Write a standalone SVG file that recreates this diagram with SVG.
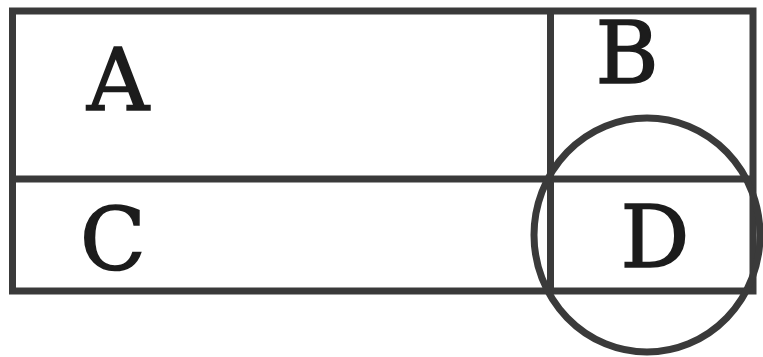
<svg xmlns="http://www.w3.org/2000/svg" width="763" height="357" viewBox="0 0 763 357">
<style>
.ln{stroke:#3a3a3a;stroke-width:7;fill:none}
.lb{font-family:"DejaVu Serif","Liberation Serif",serif;font-size:86px;fill:#1c1c1c;stroke:#1c1c1c;stroke-width:1.6;text-anchor:middle}
</style>
<rect width="763" height="357" fill="#ffffff"/>
<g id="grid">
<rect class="ln" x="12.5" y="11" width="740.5" height="280"/>
<line class="ln" x1="12.5" y1="179" x2="753" y2="179"/>
<line class="ln" x1="550.5" y1="11" x2="550.5" y2="291"/>
</g>
<g id="A"><text class="lb" x="118" y="110">A</text></g>
<g id="B"><text class="lb" x="627" y="83">B</text></g>
<g id="C"><text class="lb" x="113" y="269">C</text></g>
<g id="D"><text class="lb" x="655" y="267">D</text></g>
<g id="circle"><ellipse class="ln" cx="647" cy="235" rx="113" ry="117"/></g>
</svg>
